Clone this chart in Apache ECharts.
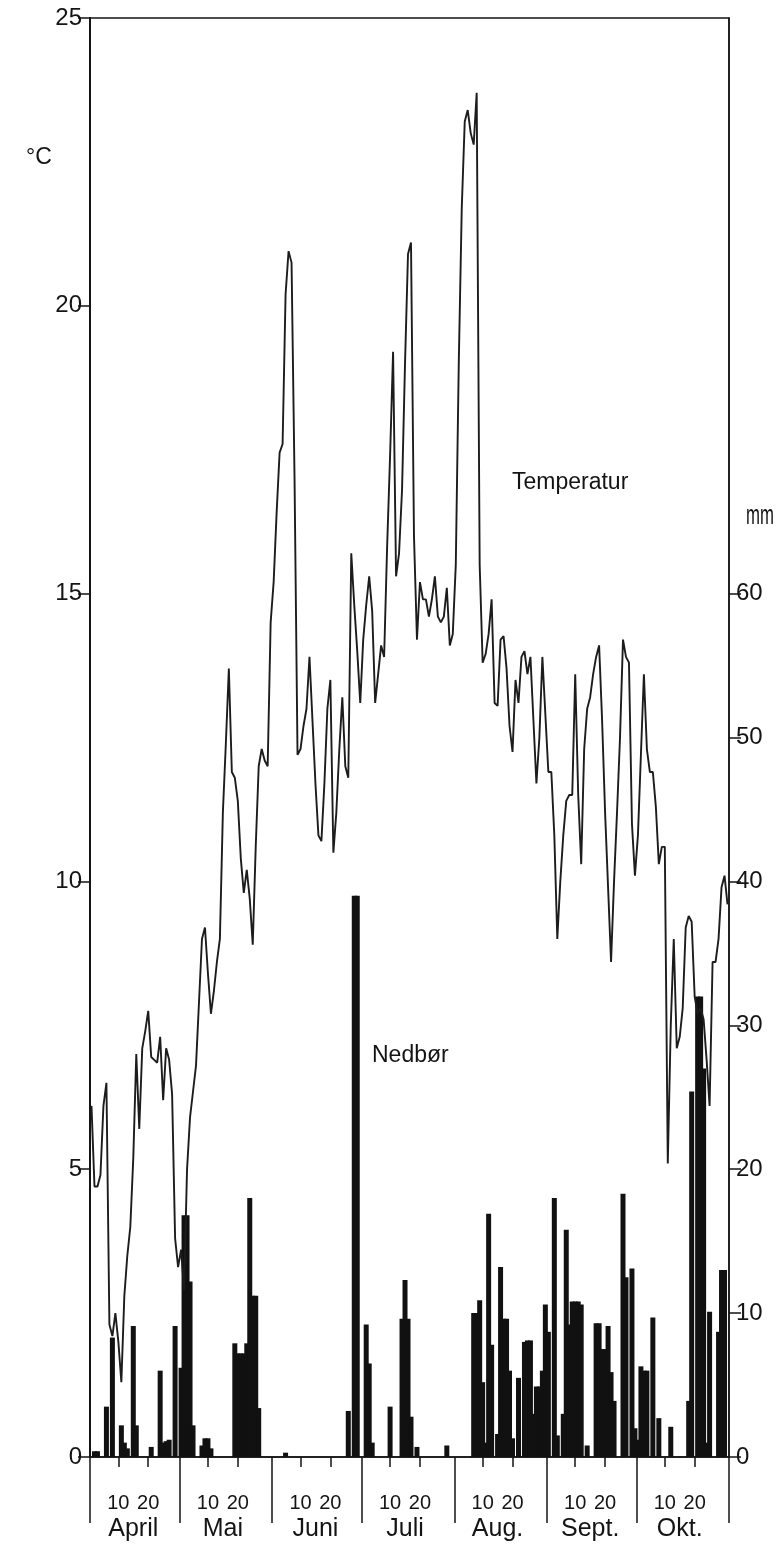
<!DOCTYPE html>
<html>
<head>
<meta charset="utf-8">
<script src="https://cdn.jsdelivr.net/npm/echarts@6/dist/echarts.min.js"></script>
<style>
  html, body { margin: 0; padding: 0; background: #ffffff; }
  #chart { width: 783px; height: 1548px; }
</style>
</head>
<body>
<div id="chart"></div>
<script>
// ---- data ----
const monthNames = ['April', 'Mai', 'Juni', 'Juli', 'Aug.', 'Sept.', 'Okt.'];
const monthDays = [30, 31, 30, 31, 31, 30, 31];
const dayTickLabels = ['10', '20'];
const leftTicks = [0, 5, 10, 15, 20, 25];
const rightTicks = [0, 10, 20, 30, 40, 50, 60];

// daily mean temperature (°C), 1 April - 31 October
const tempApr = [6.1, 4.7, 4.7, 4.9, 6.1, 6.5, 2.3, 2.1, 2.5, 2.0,
  1.3, 2.8, 3.5, 4.0, 5.2, 7.0, 5.7, 7.1, 7.4, 7.75,
  6.95, 6.9, 6.85, 7.3, 6.2, 7.1, 6.9, 6.3, 3.8, 3.3];
const tempMai = [3.6, 2.9, 5.0, 5.9, 6.35, 6.8, 7.9, 9.0, 9.2, 8.4,
  7.7, 8.1, 8.6, 9.0, 11.2, 12.4, 13.7, 11.9, 11.8, 11.4,
  10.4, 9.8, 10.2, 9.7, 8.9, 10.6, 12.0, 12.3, 12.1, 12.0, 14.5];
const tempJun = [15.2, 16.4, 17.45, 17.6, 20.2, 20.95, 20.75, 17.0, 12.2, 12.3,
  12.7, 13.0, 13.9, 12.8, 11.7, 10.8, 10.7, 11.7, 13.0, 13.5,
  10.5, 11.2, 12.3, 13.2, 12.0, 11.8, 15.7, 14.8, 14.0, 13.1];
const tempJul = [14.2, 14.8, 15.3, 14.7, 13.1, 13.6, 14.1, 13.9, 15.8, 17.4,
  19.2, 15.3, 15.7, 16.8, 19.0, 20.9, 21.1, 16.0, 14.2, 15.2,
  14.9, 14.9, 14.6, 14.9, 15.3, 14.6, 14.5, 14.6, 15.1, 14.1, 14.3];
const tempAug = [15.5, 19.0, 21.7, 23.2, 23.4, 23.0, 22.8, 23.7, 15.5, 13.8,
  13.95, 14.3, 14.9, 13.1, 13.05, 14.2, 14.26, 13.7, 12.7, 12.25,
  13.5, 13.1, 13.9, 14.0, 13.6, 13.9, 12.8, 11.7, 12.5, 13.9, 12.9];
const tempSep = [11.9, 11.9, 10.8, 9.0, 10.0, 10.8, 11.4, 11.5, 11.5, 13.6,
  11.5, 10.3, 12.3, 13.0, 13.2, 13.6, 13.9, 14.1, 12.8, 11.2,
  9.9, 8.6, 10.0, 11.2, 12.5, 14.2, 13.9, 13.8, 11.0, 10.1];
const tempOkt = [10.8, 12.2, 13.6, 12.3, 11.9, 11.9, 11.3, 10.3, 10.6, 10.6,
  5.1, 7.5, 9.0, 7.1, 7.3, 7.8, 9.2, 9.4, 9.3, 8.0,
  7.7, 7.8, 7.6, 6.9, 6.1, 8.6, 8.6, 9.0, 9.9, 10.1, 9.6];

// daily precipitation (mm)
const rainApr = [0, 0.4, 0.4, 0, 0, 3.5, 0, 8.3, 0, 0,
  2.2, 1.0, 0.6, 0, 9.1, 2.2, 0, 0, 0, 0,
  0.7, 0, 0, 6.0, 1.0, 1.1, 1.2, 0, 9.1, 0];
const rainMai = [6.2, 16.8, 16.8, 12.2, 2.2, 0, 0, 0.8, 1.3, 1.3,
  0.6, 0, 0, 0, 0, 0, 0, 0, 7.9, 7.2,
  7.2, 7.2, 7.9, 18.0, 11.2, 11.2, 3.4, 0, 0, 0, 0];
const rainJun = [0, 0, 0, 0, 0.3, 0, 0, 0, 0, 0,
  0, 0, 0, 0, 0, 0, 0, 0, 0, 0,
  0, 0, 0, 0, 0, 3.2, 0, 39.0, 39.0, 0];
const rainJul = [0, 9.2, 6.5, 1.0, 0, 0, 0, 0, 0, 3.5,
  0, 0, 0, 9.6, 12.3, 9.6, 2.8, 0, 0.7, 0,
  0, 0, 0, 0, 0, 0, 0, 0, 0.8, 0, 0];
const rainAug = [0, 0, 0, 0, 0, 0, 10.0, 10.0, 10.9, 5.2,
  1.0, 16.9, 7.8, 0, 1.6, 13.2, 9.6, 9.6, 6.0, 1.3,
  0, 5.5, 0, 8.0, 8.1, 8.1, 3.0, 4.9, 4.9, 6.0, 10.6];
const rainSep = [8.7, 0, 18.0, 1.5, 0, 3.0, 15.8, 9.2, 10.8, 10.8,
  10.8, 10.6, 0, 0.8, 0, 0, 9.3, 9.3, 7.5, 7.5,
  9.1, 5.9, 3.9, 0, 0, 18.3, 12.5, 0, 13.1, 2.0];
const rainOkt = [1.2, 6.3, 6.0, 6.0, 0, 9.7, 0, 2.7, 0, 0,
  0, 2.1, 0, 0, 0, 0, 0, 3.9, 25.4, 0,
  32.0, 32.0, 27.0, 1.0, 10.1, 0, 0, 8.7, 13.0, 13.0, 0];

const temperature = [].concat(tempApr, tempMai, tempJun, tempJul, tempAug, tempSep, tempOkt);
const precipitation = [].concat(rainApr, rainMai, rainJun, rainJul, rainAug, rainSep, rainOkt);

// ---- categories built from month lengths ----
const categories = [];
const dayOfMonth = [];
const monthOf = [];
const monthStart = new Set();
monthDays.forEach(function (n, m) {
  monthStart.add(categories.length);
  for (let d = 1; d <= n; d++) {
    categories.push(d + '.' + (m + 4) + '.');
    dayOfMonth.push(d);
    monthOf.push(m);
  }
});
const monthMid = new Set();
dayOfMonth.forEach(function (d, i) { if (d === 15) monthMid.add(i); });
const minorSet = new Set();
dayOfMonth.forEach(function (d, i) { if (dayTickLabels.indexOf(String(d)) >= 0) minorSet.add(i); });

const FONT = "'Liberation Sans', Arial, Helvetica, sans-serif";
const INK = '#141414';

const chart = echarts.init(document.getElementById('chart'), null, { renderer: 'canvas' });
chart.setOption({
  animation: false,
  backgroundColor: '#ffffff',
  grid: {
    left: 90, right: 54, top: 18, bottom: 91,
    show: true, borderColor: INK, borderWidth: 1.5, backgroundColor: 'transparent'
  },
  xAxis: [
    {
      type: 'category', data: categories, position: 'bottom', boundaryGap: true,
      axisLine: { show: true, lineStyle: { color: INK, width: 1.5 } },
      axisTick: { show: true, interval: function (i) { return monthStart.has(i); }, length: 66, lineStyle: { color: INK, width: 1.5 } },
      axisLabel: {
        interval: function (i) { return monthMid.has(i); },
        formatter: function (v, i) { return monthNames[monthOf[i]]; },
        fontSize: 25, fontFamily: FONT, color: INK, margin: 60
      },
      splitLine: { show: false }
    },
    {
      type: 'category', data: categories, position: 'bottom', boundaryGap: true,
      axisLine: { show: false },
      axisTick: { show: true, alignWithLabel: true, interval: function (i) { return minorSet.has(i); }, length: 10, lineStyle: { color: INK, width: 1.5 } },
      axisLabel: {
        interval: function (i) { return minorSet.has(i); },
        formatter: function (v, i) { return String(dayOfMonth[i]); },
        fontSize: 20, fontFamily: FONT, color: INK, margin: 36
      },
      splitLine: { show: false }
    }
  ],
  yAxis: [
    {
      type: 'value', min: 0, max: 25, interval: 5, position: 'left',
      axisLine: { show: true, lineStyle: { color: INK, width: 2 } },
      axisTick: { show: true, length: 12, lineStyle: { color: INK, width: 1.5 } },
      axisLabel: { fontSize: 24, fontFamily: FONT, color: INK, margin: 8 },
      splitLine: { show: false }
    },
    {
      type: 'value', min: 0, max: 100, interval: 10, position: 'right',
      axisLine: { show: true, lineStyle: { color: INK, width: 1.5 } },
      axisTick: { show: true, length: 12, customValues: rightTicks, lineStyle: { color: INK, width: 1.5 } },
      axisLabel: {
        customValues: rightTicks,
        formatter: function (v) { return v <= 60 ? String(v) : ''; },
        fontSize: 24, fontFamily: FONT, color: INK, margin: 7
      },
      splitLine: { show: false }
    }
  ],
  series: [
    {
      name: 'Nedbør', type: 'bar', xAxisIndex: 0, yAxisIndex: 1,
      data: precipitation, barWidth: 5, barGap: '-100%',
      itemStyle: { color: '#111111' }, z: 2, silent: true
    },
    {
      name: 'Temperatur', type: 'line', xAxisIndex: 0, yAxisIndex: 0,
      data: temperature, showSymbol: false, symbol: 'none',
      lineStyle: { color: '#1c1c1c', width: 1.9 }, z: 3, silent: true
    }
  ],
  graphic: [
    { type: 'text', x: 26, y: 158, style: { text: '°C', fill: INK, font: '23px ' + FONT, textAlign: 'left', textVerticalAlign: 'middle' } },
    { type: 'text', x: 512, y: 483, style: { text: 'Temperatur', fill: INK, font: '23px ' + FONT, textAlign: 'left', textVerticalAlign: 'middle' } },
    { type: 'text', x: 372, y: 1056, style: { text: 'Nedbør', fill: INK, font: '23px ' + FONT, textAlign: 'left', textVerticalAlign: 'middle' } },
    { type: 'text', x: 746, y: 517, scaleX: 0.62, style: { text: 'mm', fill: INK, font: '27px ' + FONT, textAlign: 'left', textVerticalAlign: 'middle' } }
  ]
});
</script>
</body>
</html>
